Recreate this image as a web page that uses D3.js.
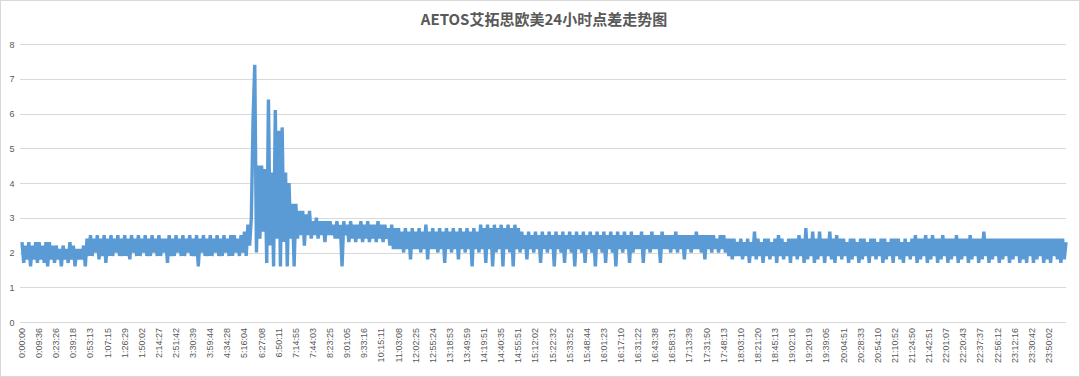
<!DOCTYPE html>
<html><head><meta charset="utf-8">
<script src="https://cdn.jsdelivr.net/npm/d3@7/dist/d3.min.js"></script>
<style>html,body{margin:0;padding:0;background:#fff;}svg{display:block;}</style>
</head><body><svg id="c" width="1080" height="377"></svg>
<script>
const title = "AETOS艾拓思欧美24小时点差走势图";
const timeLabels = ["0:00:00","0:09:36","0:23:26","0:39:18","0:53:13","1:07:15","1:26:29","1:50:02","2:14:27","2:51:42","3:30:39","3:59:44","4:34:28","5:16:04","6:27:08","6:50:11","7:14:55","7:44:03","8:23:25","9:01:05","9:33:16","10:15:11","11:03:08","12:02:25","12:55:24","13:18:53","13:49:59","14:19:51","14:40:35","14:55:51","15:12:02","15:22:32","15:33:52","15:48:44","16:01:23","16:17:10","16:31:22","16:43:38","16:58:31","17:13:39","17:31:50","17:48:13","18:03:10","18:21:20","18:45:13","19:02:16","19:20:19","19:39:05","20:04:51","20:28:33","20:54:10","21:10:52","21:24:50","21:42:51","22:01:07","22:20:43","22:37:37","22:56:12","23:12:16","23:30:42","23:50:02"];
const yTicks = [0,1,2,3,4,5,6,7,8];
const spread = [
2.3,1.7,2.2,1.8,2.3,1.6,2.2,1.8,2.3,1.7,
2.3,1.8,2.2,1.7,2.3,1.6,2.3,1.8,2.2,1.7,
2.2,1.8,2.1,1.6,2.2,1.8,2.1,1.7,2.3,1.8,
2.2,1.6,2.1,1.8,2.1,1.8,2.2,1.6,2.4,1.9,
2.5,1.9,2.4,2.0,2.5,1.8,2.4,1.9,2.5,1.7,
2.4,1.9,2.5,1.9,2.4,2.0,2.5,1.9,2.4,1.9,
2.5,1.9,2.4,1.8,2.5,2.0,2.4,1.9,2.5,1.9,
2.4,2.0,2.5,1.9,2.4,1.9,2.5,2.0,2.4,1.9,
2.5,1.9,2.4,2.0,2.4,1.7,2.5,1.9,2.4,1.9,
2.5,2.0,2.4,1.9,2.5,1.9,2.4,2.0,2.5,1.9,
2.4,1.9,2.5,1.6,2.4,2.0,2.5,1.9,2.4,1.9,
2.5,1.9,2.4,2.0,2.5,1.9,2.4,1.9,2.5,2.0,
2.4,1.9,2.5,1.9,2.5,2.0,2.4,1.9,2.5,2.0,
2.6,1.9,2.8,2.2,3.0,5.8,7.4,2.0,4.5,2.4,
4.5,2.6,4.4,1.7,6.4,2.2,4.3,1.6,6.1,2.4,
5.5,1.6,5.6,2.3,4.3,1.6,4.0,2.4,3.4,1.6,
3.4,2.4,3.2,2.5,3.2,2.2,3.1,2.5,3.2,2.4,
2.9,2.5,3.0,2.4,2.9,2.5,2.9,2.3,2.9,2.5,
2.9,2.5,2.8,2.4,2.9,2.4,2.8,1.6,2.9,2.5,
2.8,2.3,2.9,2.4,2.8,2.3,2.8,2.4,2.9,2.3,
2.8,2.4,2.9,2.3,2.8,2.4,2.8,2.3,2.9,2.4,
2.8,2.3,2.8,2.4,2.7,2.2,2.8,2.1,2.7,2.1,
2.7,2.1,2.6,2.0,2.7,2.1,2.6,1.8,2.7,2.1,
2.6,2.1,2.7,2.0,2.6,2.1,2.8,1.8,2.6,2.1,
2.7,2.1,2.6,2.0,2.7,2.1,2.6,1.7,2.7,2.1,
2.6,2.0,2.7,2.1,2.6,1.8,2.7,2.1,2.6,2.0,
2.7,2.1,2.6,1.6,2.7,2.1,2.6,2.0,2.8,2.1,
2.7,1.7,2.8,2.1,2.7,1.6,2.8,2.0,2.7,2.1,
2.8,1.6,2.7,2.1,2.8,2.0,2.7,1.6,2.8,2.1,
2.7,2.0,2.6,2.1,2.5,1.8,2.6,2.1,2.5,2.0,
2.6,2.1,2.5,1.7,2.6,2.1,2.5,2.0,2.6,2.1,
2.5,1.6,2.6,2.1,2.5,2.0,2.6,1.7,2.5,2.1,
2.6,2.0,2.5,1.6,2.6,2.1,2.5,2.0,2.6,1.7,
2.5,2.1,2.6,2.0,2.5,1.6,2.6,2.1,2.5,2.0,
2.6,1.7,2.5,2.1,2.6,2.0,2.5,1.6,2.6,2.1,
2.5,2.0,2.6,2.1,2.5,1.7,2.6,2.0,2.5,2.1,
2.5,2.1,2.6,1.7,2.5,2.1,2.5,2.0,2.6,2.1,
2.5,2.1,2.5,1.7,2.6,2.1,2.5,2.1,2.5,2.0,
2.5,2.1,2.6,2.0,2.5,2.1,2.5,1.8,2.5,2.1,
2.5,2.0,2.5,2.1,2.6,2.1,2.5,2.0,2.5,1.8,
2.5,2.1,2.5,2.0,2.5,2.1,2.4,2.0,2.5,2.1,
2.5,2.0,2.4,1.9,2.4,1.8,2.4,1.9,2.3,1.9,
2.4,1.8,2.3,1.9,2.4,1.7,2.3,1.9,2.6,1.8,
2.4,1.9,2.3,1.7,2.4,1.9,2.4,1.8,2.3,1.9,
2.4,1.7,2.5,1.9,2.4,1.8,2.3,1.9,2.4,1.7,
2.4,1.9,2.4,1.8,2.5,1.9,2.4,1.7,2.7,1.8,
2.4,1.9,2.6,1.7,2.4,1.8,2.6,1.9,2.4,1.7,
2.4,1.9,2.6,1.8,2.4,1.7,2.5,1.9,2.4,1.8,
2.4,1.9,2.3,1.7,2.4,1.8,2.4,1.9,2.3,1.7,
2.4,1.8,2.4,1.9,2.3,1.7,2.4,1.9,2.4,1.8,
2.3,1.9,2.4,1.7,2.4,1.8,2.3,1.9,2.4,1.7,
2.4,1.9,2.4,1.8,2.3,1.7,2.4,1.9,2.3,1.8,
2.4,1.9,2.5,1.7,2.4,1.8,2.4,1.9,2.5,1.7,
2.4,1.8,2.5,1.9,2.4,1.7,2.4,1.8,2.5,1.9,
2.4,1.7,2.4,1.8,2.4,1.9,2.5,1.7,2.4,1.8,
2.4,1.9,2.4,1.7,2.5,1.8,2.4,1.9,2.4,1.7,
2.4,1.8,2.6,1.9,2.4,1.7,2.4,1.8,2.4,1.9,
2.4,1.7,2.4,1.8,2.4,1.9,2.4,1.7,2.4,1.8,
2.4,1.9,2.4,1.7,2.4,1.8,2.4,1.7,2.4,1.9,
2.4,1.7,2.4,1.8,2.4,1.9,2.4,1.7,2.4,1.8,
2.4,1.7,2.4,1.9,2.4,1.8,2.4,1.7,2.4,1.8,2.3
];
const labelEvery = 10;

const svg = d3.select("#c");
const W = 1080, H = 377;
svg.append("rect").attr("x",0.5).attr("y",0.5).attr("width",W-1).attr("height",H-1)
  .attr("fill","#fff").attr("stroke","#d9d9d9");

const x = d3.scaleLinear().domain([0, spread.length-1]).range([22, 1066]);
const y = d3.scaleLinear().domain([0, 8]).range([322, 44]);

// gridlines
svg.append("g").selectAll("line").data(yTicks).join("line")
  .attr("x1",20).attr("x2",1066)
  .attr("y1",d=>Math.round(y(d))+0.5).attr("y2",d=>Math.round(y(d))+0.5)
  .attr("stroke","#d9d9d9").attr("stroke-width",1);

// y labels
svg.append("g").selectAll("text").data(yTicks).join("text")
  .attr("x",12).attr("y",d=>y(d)+3.5).attr("text-anchor","middle")
  .attr("font-family","Liberation Sans, Arial, sans-serif").attr("font-size",9)
  .attr("fill","#595959").text(d=>d);

// line
const line = d3.line().x((d,i)=>x(i)).y(d=>y(d));
svg.append("path").datum(spread).attr("d",line)
  .attr("fill","none").attr("stroke","#5b9bd5").attr("stroke-width",3.4)
  .attr("stroke-linejoin","miter").attr("stroke-miterlimit",1);

// x labels
svg.append("g").selectAll("text").data(timeLabels).join("text")
  .attr("transform",(d,i)=>`translate(${x(i*labelEvery)+3},328) rotate(-90)`)
  .attr("text-anchor","end")
  .attr("font-family","Liberation Sans, Arial, sans-serif").attr("font-size",9)
  .attr("fill","#595959").text(d=>d);

// title
svg.append("text").attr("x",544).attr("y",25).attr("text-anchor","middle")
  .attr("font-family","Noto Sans CJK SC, sans-serif").attr("font-weight","bold")
  .attr("font-size",15).attr("fill","#595959").text(title);
</script></body></html>
